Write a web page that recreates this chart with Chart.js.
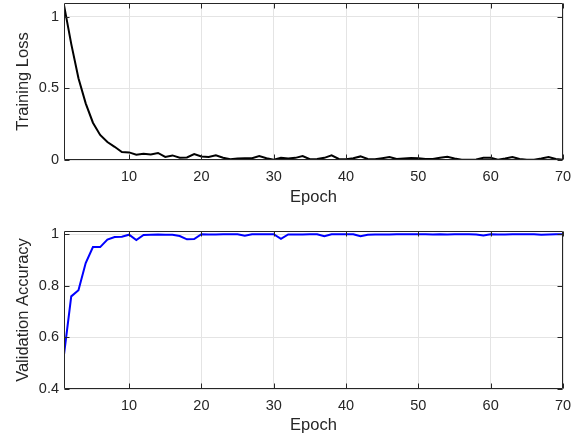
<!DOCTYPE html>
<html>
<head>
<meta charset="utf-8">
<script src="https://cdn.jsdelivr.net/npm/chart.js@4"></script>
<style>
  html, body { margin: 0; padding: 0; background: #fff; }
  #wrap { position: relative; width: 586px; height: 442px; }
  .box { position: absolute; left: 0; width: 586px; height: 221px; }
  #b1 { top: 0; } #b2 { top: 221px; }
</style>
</head>
<body>
<div id="wrap">
  <div class="box" id="b1"><canvas id="c1" width="586" height="221"></canvas></div>
  <div class="box" id="b2"><canvas id="c2" width="586" height="221"></canvas></div>
</div>
<script>
const epochs = [1,2,3,4,5,6,7,8,9,10,11,12,13,14,15,16,17,18,19,20,21,22,23,24,25,26,27,28,29,30,31,32,33,34,35,36,37,38,39,40,41,42,43,44,45,46,47,48,49,50,51,52,53,54,55,56,57,58,59,60,61,62,63,64,65,66,67,68,69,70];
const trainingLoss = [1.08,0.81,0.57,0.395,0.26,0.175,0.125,0.092,0.055,0.053,
  0.037,0.044,0.039,0.049,0.021,0.032,0.016,0.018,0.042,0.025,
  0.021,0.033,0.016,0.005,0.010,0.012,0.012,0.028,0.012,0.002,
  0.016,0.010,0.015,0.028,0.005,0.007,0.015,0.032,0.007,0.005,
  0.012,0.025,0.007,0.005,0.012,0.020,0.007,0.010,0.014,0.012,
  0.007,0.007,0.016,0.023,0.010,0.002,0.002,0.004,0.016,0.016,
  0.002,0.010,0.020,0.007,0.002,0.002,0.010,0.020,0.007,0.002];
const validationAccuracy = [0.533,0.759,0.783,0.888,0.950,0.950,0.979,0.989,0.990,0.998,
  0.977,0.997,0.998,0.999,0.998,0.998,0.993,0.980,0.981,1.000,
  0.999,0.999,1.000,1.000,1.000,0.994,1.000,1.000,1.000,1.000,
  0.982,0.999,0.999,0.999,1.000,1.000,0.992,1.000,1.000,1.000,
  1.000,0.992,0.998,0.999,0.999,0.999,1.000,1.000,1.000,1.000,
  1.000,0.999,1.000,0.999,1.000,1.000,1.000,0.999,0.995,1.000,
  0.999,0.999,1.000,1.000,1.000,1.000,0.998,0.999,1.000,1.000];
const xTicks = [10,20,30,40,50,60,70];
const lossTicks = [0,0.5,1];
const accTicks = [0.4,0.6,0.8,1];

const TEXT = 'rgb(38,38,38)';
const GRID = 'rgb(228,228,228)';
const FONT = '"Liberation Sans", Arial, Helvetica, sans-serif';

const boxPlugin = {
  id: 'matlabBox',
  afterDraw(chart) {
    const {ctx, chartArea: a} = chart;
    const xs = chart.scales.x, ys = chart.scales.y;
    ctx.save();
    ctx.strokeStyle = TEXT;
    ctx.lineWidth = 1;
    const L = Math.round(a.left) + 0.5, R = Math.round(a.right) - 0.5;
    const T = Math.round(a.top) + 0.5, B = Math.round(a.bottom) - 0.5;
    ctx.beginPath();
    ctx.rect(L, T, R - L, B - T);
    const tl = 5;
    xs.ticks.forEach(t => {
      const px = Math.round(xs.getPixelForValue(t.value)) + 0.5;
      ctx.moveTo(px, B); ctx.lineTo(px, B - tl);
      ctx.moveTo(px, T); ctx.lineTo(px, T + tl);
    });
    ys.ticks.forEach(t => {
      const py = Math.round(ys.getPixelForValue(t.value)) + 0.5;
      ctx.moveTo(L, py); ctx.lineTo(L + tl, py);
      ctx.moveTo(R, py); ctx.lineTo(R - tl, py);
    });
    ctx.stroke();
    ctx.restore();
  }
};

function makeChart(id, values, color, yMin, yMax, yTickList, yTitle, cfg) {
  return new Chart(document.getElementById(id), {
    type: 'line',
    data: {
      datasets: [{
        data: epochs.map((e, i) => ({x: e, y: values[i]})),
        borderColor: color,
        borderWidth: 2,
        pointRadius: 0,
        tension: 0,
        fill: false
      }]
    },
    options: {
      responsive: false,
      animation: false,
      events: [],
      layout: { padding: { top: cfg.top, right: 23, left: 0, bottom: 0 } },
      plugins: { legend: { display: false }, tooltip: { enabled: false } },
      scales: {
        x: {
          type: 'linear', min: 1, max: 70,
          afterBuildTicks: s => { s.ticks = xTicks.map(v => ({value: v})); },
          afterFit: s => { s.height = cfg.xh; s.paddingLeft = 0; s.paddingRight = 0; },
          grid: { color: GRID, drawTicks: false, lineWidth: 1 },
          border: { display: false },
          ticks: { color: TEXT, font: { family: FONT, size: 14.5 }, padding: 8.5, maxRotation: 0 },
          title: { display: true, text: 'Epoch', color: TEXT, font: { family: FONT, size: 16.5 }, padding: { top: 0, bottom: cfg.tpad } }
        },
        y: {
          type: 'linear', min: yMin, max: yMax,
          afterBuildTicks: s => { s.ticks = yTickList.map(v => ({value: v})); },
          afterFit: s => { s.width = 64; s.paddingTop = 0; s.paddingBottom = 0; },
          grid: { color: GRID, drawTicks: false, lineWidth: 1 },
          border: { display: false },
          ticks: { color: TEXT, font: { family: FONT, size: 14.5 }, padding: 5,
                   callback: v => String(v) },
          title: { display: true, text: yTitle, color: TEXT, font: { family: FONT, size: 16.5 }, padding: { top: 14, bottom: 0 } }
        }
      }
    },
    plugins: [boxPlugin]
  });
}

makeChart('c1', trainingLoss, '#000000', 0, 1.095, lossTicks, 'Training Loss', { top: 3, xh: 61, tpad: 13.6 });
makeChart('c2', validationAccuracy, '#0000ff', 0.4, 1.0124, accTicks, 'Validation Accuracy', { top: 10, xh: 53, tpad: 6.2 });
</script>
</body>
</html>
